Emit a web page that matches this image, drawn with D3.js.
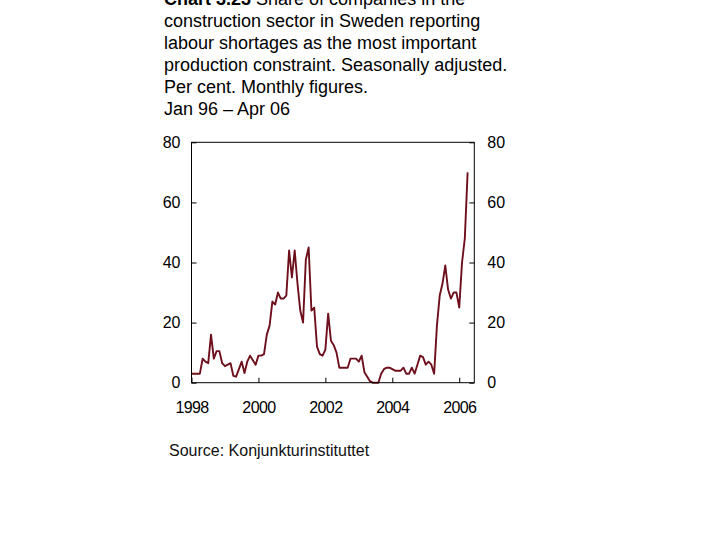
<!DOCTYPE html>
<html>
<head>
<meta charset="utf-8">
<script src="https://cdn.jsdelivr.net/npm/d3@7"></script>
<style>
  html, body { margin: 0; padding: 0; background: #fff; }
  svg { display: block; font-family: "Liberation Sans", Arial, sans-serif; }
</style>
</head>
<body>
<svg id="chart" width="720" height="540"></svg>
<script>
// Monthly values, Jan 1998 – Apr 2006 (per cent)
const startYear = 1998;
const values1998 = [3, 3, 3, 3, 8, 7, 6.5, 16, 8, 10.5, 10.5, 6.5];
const values1999 = [5.5, 6, 6.5, 2.3, 2, 4.5, 7, 3.2, 7, 9, 7.5, 6];
const values2000 = [9, 9, 9.5, 16, 19, 27, 26, 30, 28, 28, 29, 44];
const values2001 = [35, 44, 33, 24, 20, 41, 45, 24, 25, 12, 9.5, 9];
const values2002 = [11, 23, 14, 12.5, 10, 5, 5, 5, 5, 8, 8, 8];
const values2003 = [7, 9, 3.5, 2, 0.5, 0, 0, 0, 3, 4.5, 5, 5];
const values2004 = [4.5, 4, 4, 4, 5, 3, 3, 5, 3, 6, 9, 8.5];
const values2005 = [6, 7, 6, 3, 19, 29, 33, 39, 31, 28, 30, 30];
const values2006 = [25, 40, 48, 70];

const xTicks = [1998, 2000, 2002, 2004, 2006];
const yTicks = [0, 20, 40, 60, 80];

const titleLines = [
  { bold: "Chart 3.23", rest: " Share of companies in the" },
  { bold: "", rest: "construction sector in Sweden reporting" },
  { bold: "", rest: "labour shortages as the most important" },
  { bold: "", rest: "production constraint. Seasonally adjusted." },
  { bold: "", rest: "Per cent. Monthly figures." },
  { bold: "", rest: "Jan 96 \u2013 Apr 06" }
];
const sourceText = "Source: Konjunkturinstituttet";

const allValues = [].concat(values1998, values1999, values2000, values2001,
  values2002, values2003, values2004, values2005, values2006);
const data = allValues.map((v, i) => ({ t: startYear + i / 12, v: v }));

const svg = d3.select("#chart");
const pLeft = 191.5, pRight = 474.3, pTop = 142.3, pBottom = 382.7;

const x = d3.scaleLinear().domain([1998, 2006 + 5.4 / 12]).range([pLeft, pRight]);
const y = d3.scaleLinear().domain([0, 80]).range([pBottom, pTop]);

// Title
const title = svg.append("g");
titleLines.forEach((ln, i) => {
  const t = title.append("text")
    .attr("x", 164).attr("y", 5 + i * 22)
    .attr("font-size", 18).attr("fill", "#000");
  if (ln.bold) t.append("tspan").attr("font-weight", "bold").text(ln.bold);
  t.append("tspan").text(ln.rest);
});

// Line
const line = d3.line().x(d => x(d.t)).y(d => y(d.v));
svg.append("path")
  .datum(data)
  .attr("fill", "none")
  .attr("stroke", "#6e0f1c")
  .attr("stroke-width", 1.9)
  .attr("stroke-linejoin", "round")
  .attr("d", line);

// Frame
svg.append("rect")
  .attr("x", pLeft).attr("y", pTop)
  .attr("width", pRight - pLeft).attr("height", pBottom - pTop)
  .attr("fill", "none").attr("stroke", "#000").attr("stroke-width", 1);

// Axes (inward ticks)
const axL = d3.axisLeft(y).tickValues(yTicks).tickSize(-5).tickPadding(11).tickFormat(d3.format("d"));
const axR = d3.axisRight(y).tickValues(yTicks).tickSize(-5).tickPadding(13).tickFormat(d3.format("d"));
const axB = d3.axisBottom(x).tickValues(xTicks).tickSize(-5).tickPadding(19).tickFormat(d3.format("d"));

function style(g) {
  g.select(".domain").remove();
  g.selectAll(".tick line").attr("stroke", "#000");
  g.selectAll(".tick text").attr("fill", "#000").attr("font-size", 16)
    .attr("font-family", "Liberation Sans, Arial, sans-serif");
}
svg.append("g").attr("transform", `translate(${pLeft},0)`).call(axL).call(style);
svg.append("g").attr("transform", `translate(${pRight},0)`).call(axR).call(style);
svg.append("g").attr("transform", `translate(0,${pBottom})`).call(axB).call(style)
  .selectAll(".tick text").attr("letter-spacing", -0.6);

// Source
svg.append("text")
  .attr("x", 169).attr("y", 456)
  .attr("font-size", 16).attr("fill", "#111")
  .text(sourceText);
</script>
</body>
</html>
